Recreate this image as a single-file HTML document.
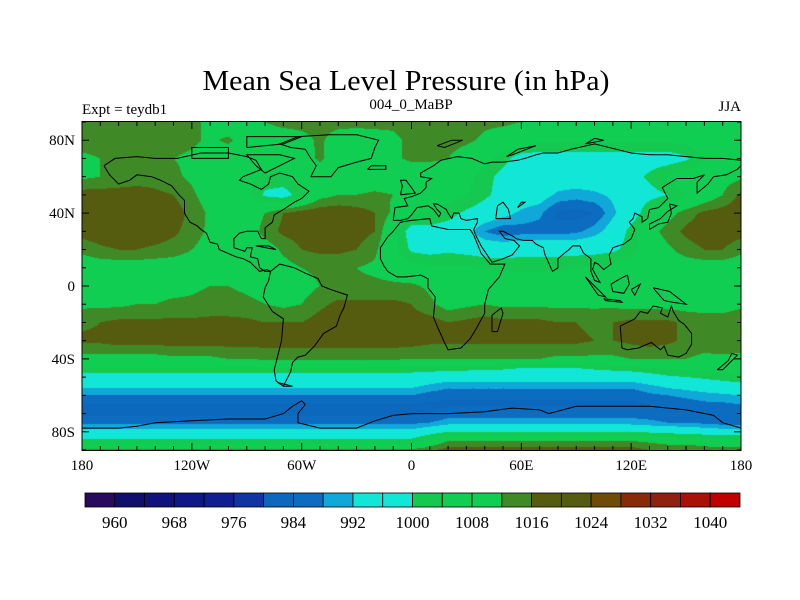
<!DOCTYPE html>
<html><head><meta charset="utf-8"><title>Mean Sea Level Pressure</title>
<style>
html,body{margin:0;padding:0;background:#fff;}
#wrap{position:relative;width:800px;height:600px;overflow:hidden;background:#fff;}
#field{position:absolute;left:82px;top:122px;}
#ov{position:absolute;left:0;top:0;}
text{font-family:"Liberation Serif",serif;fill:#000;}
</style></head>
<body>
<div id="wrap">
<canvas id="field" width="659" height="328"></canvas>
<svg id="ov" width="800" height="600">
<text x="406" y="90" font-size="29" text-anchor="middle" textLength="407" lengthAdjust="spacingAndGlyphs">Mean Sea Level Pressure (in hPa)</text>
<text x="82" y="114" font-size="15">Expt = teydb1</text>
<text x="411" y="109" font-size="15" text-anchor="middle">004_0_MaBP</text>
<text x="741" y="111" font-size="15" text-anchor="end">JJA</text>
<g id="coast"></g>
<g id="ticks"></g>
<rect x="82" y="121.5" width="659" height="329" fill="none" stroke="#000" stroke-width="1"/>
<g id="xlabels"></g>
<g id="ylabels"></g>
<g id="cbar"></g>
</svg>
</div>
<script>
const levels=[960,964,968,972,976,980,984,988,992,996,1000,1004,1008,1012,1016,1020,1024,1028,1032,1036,1040];
const colors=["#2a0a5c","#10106c","#12127c","#101888","#101e92","#1034a4","#0c68bc","#0c6cc0","#10a8d8","#12e6d6","#12e6d6","#14c850","#10ce52","#10ce52","#3f8a26","#565c0f","#565c0f","#6e4c08","#882a08","#902010","#a81008","#c00000"];
const cbarLabels=[960,968,976,984,992,1000,1008,1016,1024,1032,1040];
const lonTicks=[-180,-120,-60,0,60,120,180];
const lonTickLabels=["180","120W","60W","0","60E","120E","180"];
const latTicks=[80,40,0,-40,-80];
const latTickLabels=["80N","40N","0","40S","80S"];
const lats=[90,80,70,60,50,40,30,20,10,0,-10,-20,-30,-40,-45,-50,-55,-60,-65,-70,-75,-80,-85,-90];
const lons=[-180,-170,-160,-150,-140,-130,-120,-110,-100,-90,-80,-70,-60,-50,-40,-30,-20,-10,0,10,20,30,40,50,60,70,80,90,100,110,120,130,140,150,160,170,180];
const row90=[1014,1014,1014,1014,1014,1014,1014,1010,1008,1008,1012,1014,1014,1014,1014,1014,1014,1013,1014,1014,1014,1014,1013,1013,1012,1008,1008,1008,1008,1008,1008,1008,1008,1008,1008,1008,1008];
const row80=[1014,1014,1014,1014,1014,1014,1013,1011,1013,1009,1008,1008,1010,1013,1009,1008,1009,1011,1013,1014,1014,1013,1011,1009,1008,1005,1005,1005,1005,1005,1005,1005,1005,1006,1008,1008,1008];
const row70=[1011,1012,1013,1013,1013,1012,1011,1009,1008,1008,1008,1008,1009,1013,1008,1008,1008,1011,1013,1013,1012,1009,1006,1002,997,997,997,997,997,997,997,997,997,999,1004,1008,1009];
const row60=[1011,1012,1013,1014,1014,1013,1011,1008,1008,1006,1003,1004,1007,1008,1008,1008,1008,1008,1008,1008,1008,1006,1002,998,997,996,996,996,996,997,998,1001,1005,1008,1008,1010,1011];
const row50=[1018,1018,1018,1018,1017,1016,1013,1009,1008,1006,999,997,1003,1010,1012,1012,1013,1012,1009,1008,1006,1004,1001,998,996,995,991,990,991,993,996,998,1000,1004,1008,1012,1017];
const row40=[1019,1020,1021,1021,1020,1018,1015,1011,1009,1008,1012,1016,1018,1019,1019,1018,1016,1011,1005,1004,1002,999,997,994,991,989,983,982,984,991,996,1004,1010,1014,1017,1018,1019];
const row30=[1018,1019,1020,1020,1019,1017,1014,1011,1009,1008,1014,1017,1018,1019,1019,1018,1016,1006,997,998,997,994,988,985,986,986,986,987,990,995,1002,1010,1014,1017,1019,1019,1018];
const row20=[1013,1015,1016,1016,1015,1014,1012,1010,1008,1008,1009,1013,1016,1017,1017,1016,1013,1006,999,998,999,998,997,997,998,998,998,998,998,999,1002,1007,1011,1014,1016,1016,1013];
const row10=[1009,1009,1009,1009,1009,1009,1009,1009,1009,1009,1009,1010,1012,1013,1013,1012,1011,1009,1006,1005,1005,1005,1004,1003,1003,1003,1003,1004,1005,1006,1007,1008,1009,1009,1009,1009,1009];
const row0=[1009,1009,1009,1010,1010,1010,1011,1012,1012,1011,1010,1009,1010,1012,1013,1013,1013,1013,1013,1011,1008,1008,1008,1008,1008,1008,1008,1008,1008,1008,1008,1008,1008,1008,1008,1008,1009];
const rowS10=[1011,1011,1011,1012,1012,1013,1013,1014,1014,1013,1012,1011,1012,1015,1017,1017,1017,1017,1016,1013,1010,1011,1012,1011,1011,1011,1011,1011,1011,1011,1010,1010,1010,1010,1010,1010,1011];
const rowS20=[1015,1016,1017,1017,1017,1017,1017,1017,1017,1017,1016,1016,1016,1018,1019,1019,1019,1019,1018,1018,1016,1017,1018,1017,1017,1017,1016,1016,1015,1016,1017,1017,1017,1015,1014,1014,1015];
const rowS30=[1017,1017,1018,1018,1018,1018,1018,1018,1018,1018,1018,1018,1018,1018,1018,1018,1018,1018,1018,1017,1017,1017,1017,1017,1017,1017,1017,1017,1016,1016,1017,1018,1017,1015,1014,1015,1016];
const rowS40=[1010,1010,1010,1010,1010,1011,1011,1011,1012,1012,1013,1013,1013,1013,1013,1013,1013,1013,1012,1012,1012,1012,1012,1012,1012,1012,1011,1011,1011,1011,1012,1012,1012,1012,1011,1011,1010];
const rowS45=[1004,1004,1004,1004,1004,1004,1004,1004,1003,1003,1004,1004,1004,1004,1004,1004,1003,1003,1003,1003,1002,1002,1001,1001,1000,1000,1000,1000,1001,1002,1003,1004,1005,1006,1007,1008,1008];
const rowS50=[997,997,997,997,997,997,997,997,997,997,997,997,997,997,997,997,997,997,997,996,995,995,995,995,995,995,995,995,995,995,995,997,999,1000,1001,1002,1003];
const rowS55=[993,993,993,993,993,993,993,993,993,993,993,993,993,993,993,993,993,993,993,991,989,989,989,989,989,989,989,989,989,989,989,991,993,994,996,997,998];
const rowS60=[988,988,988,988,988,988,988,988,988,988,988,988,988,988,988,988,988,988,988,986,985,985,985,985,985,985,985,985,985,985,985,987,988,989,990,991,992];
const rowS65=[984,984,984,984,984,984,984,984,984,984,984,984,984,984,984,984,984,984,984,983,983,983,983,983,983,983,983,983,983,983,983,984,985,986,987,987,988];
const rowS70=[983,983,983,983,983,983,983,983,983,983,983,983,983,983,983,983,983,983,983,984,986,986,986,986,986,986,986,986,986,986,986,986,985,985,985,984,984];
const rowS75=[987,987,987,987,987,987,987,987,987,987,987,987,987,987,987,987,987,987,987,988,990,990,990,990,990,990,990,990,990,990,990,989,988,988,987,986,986];
const rowS80=[994,994,994,994,994,994,994,994,994,994,994,994,994,994,994,994,994,994,994,997,1000,1000,1000,1000,1000,1000,1000,1000,1000,1000,1000,999,998,997,996,995,995];
const rowS85=[1002,1002,1002,1002,1002,1002,1002,1002,1002,1002,1002,1002,1002,1002,1002,1002,1002,1002,1002,1007,1012,1012,1012,1012,1012,1012,1012,1012,1012,1012,1012,1011,1010,1010,1009,1008,1008];
const rowS90=[1013,1013,1013,1013,1013,1013,1013,1013,1013,1013,1013,1013,1013,1013,1013,1013,1013,1013,1013,1015,1018,1018,1018,1018,1018,1018,1018,1018,1018,1018,1018,1016,1015,1015,1014,1014,1014];
const grid=[row90,row80,row70,row60,row50,row40,row30,row20,row10,row0,rowS10,rowS20,rowS30,rowS40,rowS45,rowS50,rowS55,rowS60,rowS65,rowS70,rowS75,rowS80,rowS85,rowS90];

const coastNA=[[-168,66],[-162,70],[-150,71],[-140,70],[-128,70],[-115,73],[-100,73],[-90,71],[-85,69],[-82,64],[-92,60],[-94,58],[-88,56],[-82,53],[-78,56],[-77,60],[-72,62],[-65,60],[-62,56],[-56,52],[-60,48],[-64,46],[-67,44],[-70,42],[-75,39],[-76,35],[-80,32],[-80,26],[-82,26],[-84,30],[-90,30],[-94,29],[-97,26],[-97,21],[-91,19],[-90,21],[-87,21],[-88,16],[-84,15],[-83,10],[-80,8],[-77,8],[-79,9],[-83,8],[-86,11],[-88,13],[-92,15],[-96,16],[-105,20],[-106,23],[-110,24],[-112,29],[-115,31],[-117,33],[-121,35],[-124,40],[-124,47],[-127,50],[-131,55],[-137,58],[-142,60],[-150,61],[-154,58],[-160,56],[-162,58],[-165,61],[-168,66]];
const coastGR=[[-55,60],[-44,60],[-40,65],[-30,68],[-22,70],[-20,76],[-18,80],[-30,83],[-45,83],[-62,82],[-72,78],[-66,76],[-58,75],[-55,70],[-52,66],[-55,60]];
const coastSA=[[-77,8],[-72,12],[-64,10],[-58,7],[-51,4],[-49,0],[-44,-2],[-35,-5],[-37,-12],[-39,-16],[-41,-22],[-48,-26],[-53,-33],[-58,-38],[-62,-39],[-65,-42],[-66,-47],[-68,-51],[-70,-55],[-74,-52],[-75,-46],[-73,-38],[-71,-30],[-70,-18],[-76,-14],[-81,-6],[-80,-1],[-78,3],[-77,8]];
const coastAF=[[-17,15],[-17,21],[-13,27],[-10,30],[-6,35],[0,36],[10,37],[11,33],[20,31],[32,31],[34,28],[38,18],[43,12],[51,12],[48,5],[42,-2],[40,-10],[40,-15],[35,-24],[32,-29],[27,-34],[20,-35],[18,-31],[14,-22],[12,-17],[13,-6],[9,-1],[9,4],[5,6],[-3,5],[-8,5],[-13,8],[-15,11],[-17,15]];
const coastEU=[[-10,36],[-9,43],[-2,44],[-4,48],[0,49],[5,51],[8,54],[8,57],[11,59],[5,60],[5,62],[12,66],[16,69],[25,71],[33,70],[40,67],[44,68],[50,68],[58,69],[62,70],[68,72],[72,73],[80,73],[87,75],[100,78],[112,75],[120,73],[130,72],[140,72],[150,71],[160,70],[170,70],[180,69]];
const coastAS=[[180,66],[178,64],[172,61],[165,60],[162,56],[156,51],[156,57],[160,61],[154,59],[145,59],[140,56],[137,54],[140,48],[135,43],[130,42],[129,37],[126,35],[126,38],[122,40],[121,37],[119,35],[122,31],[120,26],[116,23],[110,21],[108,17],[109,12],[105,9],[102,12],[100,13],[99,9],[103,2],[100,3],[98,8],[98,15],[94,18],[92,22],[88,22],[86,20],[80,15],[80,10],[77,8],[73,17],[72,21],[68,23],[66,25],[61,25],[57,26],[56,27],[50,30],[48,30],[51,26],[56,25],[58,23],[59,22],[55,17],[50,15],[44,13],[42,16],[38,22],[35,28],[34,31],[36,35],[36,37],[30,36],[27,37],[26,40],[23,40],[22,37],[20,40],[19,42],[14,45],[12,45],[14,42],[16,40],[15,38],[12,42],[9,44],[3,43],[0,39],[-2,37],[-6,36],[-10,36]];
const coastAU=[[114,-22],[115,-34],[118,-35],[124,-34],[131,-31],[136,-35],[138,-33],[140,-38],[146,-39],[150,-37],[153,-32],[153,-26],[149,-21],[146,-19],[143,-14],[142,-11],[140,-17],[136,-15],[137,-12],[132,-11],[129,-15],[125,-14],[122,-18],[114,-22]];
const coastAN=[[-180,-78],[-160,-78],[-150,-77],[-140,-75],[-120,-74],[-100,-73],[-80,-73],[-70,-70],[-65,-66],[-60,-63],[-58,-65],[-62,-70],[-62,-75],[-50,-78],[-30,-78],[-20,-74],[-10,-71],[0,-70],[20,-70],[40,-69],[55,-67],[70,-68],[75,-70],[90,-66],[110,-66],[130,-66],[150,-68],[165,-71],[170,-75],[180,-78]];
const coastIS=[[[-6,50],[2,51],[0,54],[-3,58],[-6,58],[-5,55],[-6,50]],[[130,31],[135,34],[140,35],[142,40],[141,45],[145,44],[140,41],[136,37],[130,34],[130,31]],[[44,-25],[47,-25],[50,-15],[49,-12],[44,-16],[44,-25]],[[95,5],[100,0],[106,-6],[102,-5],[95,5]],[[109,1],[114,4],[118,6],[119,1],[116,-4],[110,-3],[109,1]],[[105,-7],[114,-8],[115,-9],[106,-8],[105,-7]],[[120,-2],[125,1],[122,-5],[120,-2]],[[132,-1],[141,-3],[150,-10],[143,-9],[138,-8],[132,-1]],[[167,-46],[173,-41],[175,-37],[178,-38],[174,-42],[170,-46],[167,-46]],[[-73,-53],[-65,-55],[-70,-55],[-73,-53]],[[-85,22],[-74,20],[-78,22],[-85,22]],[[-80,62],[-64,70],[-72,72],[-90,72],[-85,66],[-80,62]],[[-120,70],[-100,70],[-100,76],[-120,76],[-120,70]],[[-90,76],[-70,78],[-60,82],[-90,82],[-90,76]],[[14,77],[22,80],[28,80],[18,76],[14,77]],[[52,71],[58,75],[68,77],[55,72],[52,71]],[[95,78],[105,80],[100,81],[95,78]],[[-24,64],[-14,64],[-14,66],[-22,66],[-24,64]],[[46,37],[54,37],[53,42],[50,46],[47,44],[46,37]],[[58,43],[62,46],[60,46],[58,43]]];

const W=659,H=328,X0=82,Y0=122;
function xOf(lon){return X0+(lon+180)/360*W;}
function yOf(lat){return Y0+(90-lat)/180*H;}
function hexRGB(h){return [parseInt(h.substr(1,2),16),parseInt(h.substr(3,2),16),parseInt(h.substr(5,2),16)];}
function valueAt(lon,lat){
  let i=0;while(i<lats.length-2&&lat<lats[i+1])i++;
  const t=(lats[i]-lat)/(lats[i]-lats[i+1]);
  let j=Math.floor((lon+180)/10);if(j>35)j=35;if(j<0)j=0;
  const s=(lon-lons[j])/10;
  const a=grid[i][j]*(1-s)+grid[i][j+1]*s;
  const b=grid[i+1][j]*(1-s)+grid[i+1][j+1]*s;
  return a*(1-t)+b*t;
}
(function(){
  const cv=document.getElementById('field');const ctx=cv.getContext('2d');
  const img=ctx.createImageData(W,H);const rgb=colors.map(hexRGB);
  for(let py=0;py<H;py++){const lat=90-(py+0.5)*180/H;
    for(let px=0;px<W;px++){const lon=-180+(px+0.5)*360/W;
      const v=valueAt(lon,lat);let k=0;while(k<levels.length&&v>=levels[k])k++;
      const c=rgb[k];const o=(py*W+px)*4;img.data[o]=c[0];img.data[o+1]=c[1];img.data[o+2]=c[2];img.data[o+3]=255;}}
  ctx.putImageData(img,0,0);
})();
const NS="http://www.w3.org/2000/svg";
function mk(tag,attrs,parent){const e=document.createElementNS(NS,tag);for(const k in attrs)e.setAttribute(k,attrs[k]);parent.appendChild(e);return e;}
(function(){
  const g=document.getElementById('coast');
  const all=[coastNA,coastGR,coastSA,coastAF,coastEU,coastAS,coastAU,coastAN].concat(coastIS);
  all.forEach(function(pts){
    let d='';pts.forEach(function(p,k){d+=(k?'L':'M')+xOf(p[0]).toFixed(1)+' '+yOf(p[1]).toFixed(1);});
    const p=mk('path',{d:d,fill:'none',stroke:'#000','stroke-width':'1'},g);
    
    
  });
  const t=document.getElementById('ticks');
  for(let lon=-180;lon<=180;lon+=10){const x=xOf(lon);const L=(lon%60===0)?7:4;
    mk('line',{x1:x,y1:Y0,x2:x,y2:Y0+L,stroke:'#000'},t);
    mk('line',{x1:x,y1:Y0+H,x2:x,y2:Y0+H-L,stroke:'#000'},t);}
  for(let lat=-90;lat<=90;lat+=10){const y=yOf(lat);const L=(lat%40===0)?7:4;
    mk('line',{x1:X0,y1:y,x2:X0+L,y2:y,stroke:'#000'},t);
    mk('line',{x1:X0+W,y1:y,x2:X0+W-L,y2:y,stroke:'#000'},t);}
  const xl=document.getElementById('xlabels');
  lonTicks.forEach(function(lon,k){const e=mk('text',{x:xOf(lon),y:470,'font-size':15,'text-anchor':'middle'},xl);e.textContent=lonTickLabels[k];
    
    });
  const yl=document.getElementById('ylabels');
  latTicks.forEach(function(lat,k){const e=mk('text',{x:75,y:yOf(lat)+5,'font-size':15,'text-anchor':'end'},yl);e.textContent=latTickLabels[k];
    
    });
  const cb=document.getElementById('cbar');const cx0=85,cw=655/colors.length,cy=493,ch=14;
  colors.forEach(function(c,k){const r=mk('rect',{x:cx0+k*cw,y:cy,width:cw,height:ch,fill:c,stroke:'#000','stroke-width':0.8},cb);
    
    });
  cbarLabels.forEach(function(v){const k=levels.indexOf(v)+1;const e=mk('text',{x:cx0+k*cw,y:528,'font-size':17,'text-anchor':'middle'},cb);e.textContent=v;
    
    });
})();
</script>
</body></html>
